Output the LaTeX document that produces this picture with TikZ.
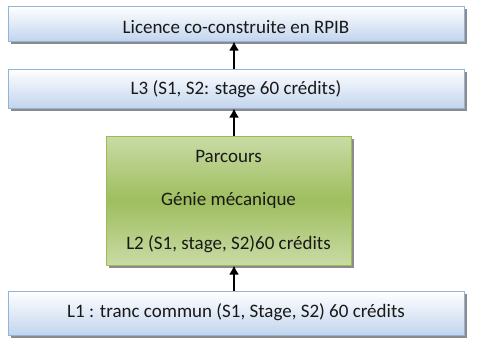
\documentclass[tikz,border=0pt]{standalone}
\usepackage{fontspec}
\setmainfont{Carlito}
\usetikzlibrary{shadows,arrows.meta}
\definecolor{bluetop}{HTML}{FFFFFF}
\definecolor{bluebot}{HTML}{C2D5EE}
\definecolor{blueline}{HTML}{95B3D7}
\definecolor{greenedge}{HTML}{C9DBA5}
\definecolor{greenmid}{HTML}{9EBE5E}
\definecolor{greenline}{HTML}{9BBB59}
\definecolor{shadowgray}{HTML}{6E6E6E}
\tikzset{
  bluebox/.style={draw=blueline, line width=1pt, top color=bluetop, bottom color=bluebot,
    minimum width=456pt, inner sep=0pt,
    drop shadow={shadow xshift=2.5pt, shadow yshift=-2.5pt, fill=shadowgray, opacity=0.8}},
  greenbox/.style={draw=greenline, line width=1pt, top color=greenedge, bottom color=greenedge,
    middle color=greenmid, minimum width=245pt, minimum height=129pt, inner sep=0pt,
    drop shadow={shadow xshift=2.5pt, shadow yshift=-2.5pt, fill=shadowgray, opacity=0.8}},
  label/.style={font=\fontsize{19}{22}\selectfont, text=black!90},
  link/.style={-{Latex[length=9pt,width=10pt]}, line width=1.8pt}
}
\begin{document}
\begin{tikzpicture}[x=1pt,y=-1pt]
\useasboundingbox (0,0) rectangle (479,346);
\node[bluebox, minimum height=35pt] (rpib) at (236,23.5) {};
\node[label] (rpibtxt) at (236,27) {Licence co-construite en RPIB};
\node[bluebox, minimum height=39pt] (l3) at (236,88.5) {};
\node[label] (l3txt) at (236,89) {L3 (S1, S2: stage 60 crédits)};
\node[greenbox] (l2) at (228.5,200.5) {};
\node[label] (parc) at (228.5,156) {Parcours};
\node[label] (genie) at (228.5,200) {Génie mécanique};
\node[label] (l2txt) at (228.5,244) {L2 (S1, stage, S2)60 crédits};
\node[bluebox, minimum height=44pt] (l1) at (236,313) {};
\node[label] (l1txt) at (236,312) {L1 : tranc commun (S1, Stage, S2) 60 crédits};
\draw[link] (l3.north -| 234,0) -- (rpib.south -| 234,0);
\draw[link] (l2.north -| 234,0) -- (l3.south -| 234,0);
\draw[link] (l1.north -| 234,0) -- (l2.south -| 234,0);
\end{tikzpicture}
\end{document}
